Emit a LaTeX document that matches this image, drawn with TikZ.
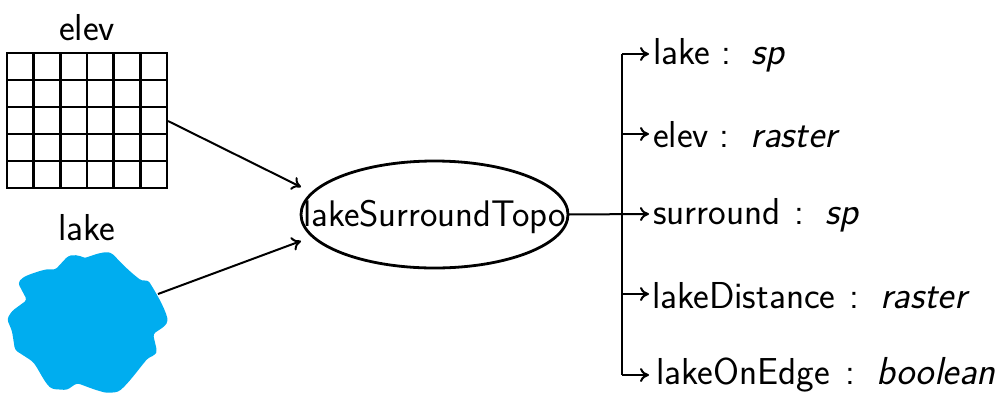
\documentclass[tikz,border=0pt]{standalone}
\usetikzlibrary{arrows.meta,shapes.geometric}
\definecolor{lakeblue}{HTML}{00ADEF}
\tikzset{
  every node/.style={font=\sffamily\fontsize{37.5}{37.5}\selectfont,text=black,inner sep=0pt,outer sep=0pt},
  lbl/.style={anchor=base west},
  title/.style={anchor=base},
  conn/.style={line width=2pt,-{To[length=9pt,width=14pt]}},
  trunk/.style={line width=2pt},
  gridline/.style={line width=2.8pt},
}
\newcommand{\ty}[2]{\hspace{#1}:\hspace{21pt}{\fontsize{39}{39}\selectfont\textit{#2}}}
\begin{document}
\begin{tikzpicture}[x=1pt,y=-1pt]
\useasboundingbox (0,0) rectangle (1000,408);
% raster
\node[draw,gridline,minimum width=160pt,minimum height=135pt,anchor=north west] (grid) at (7,53) {};
\foreach \x in {33.67,60.33,87,113.67,140.33} \draw[gridline] (\x,53) -- (\x,188);
\foreach \y in {80,107,134,161} \draw[gridline] (7,\y) -- (167,\y);
\node[title] (elevT) at (87,40) {elev};
% lake
\node[title] (lakeT) at (87,240) {lake};
\fill[lakeblue,rounded corners=3pt] (68,256) .. controls (78,254) and (84,258) .. (88,257) .. controls (96,254) and (106,251) .. (113,254)
 .. controls (120,262) and (130,272) .. (142,281) -- (148,280) .. controls (155,291) and (165,308) .. (168,321) -- (165,326) -- (153,334)
 -- (157,351) -- (155,355) -- (148,358) .. controls (138,370) and (128,384) .. (118,392) -- (107,393) .. controls (95,390) and (85,386) .. (77,383)
 -- (67,390) -- (52,389) .. controls (44,382) and (38,368) .. (32,361) -- (15,350) -- (12,331) -- (7,319) -- (12,311) -- (27,300) -- (18,283) -- (22,278)
 .. controls (30,274) and (42,270) .. (50,269) -- (55,270) -- cycle;
% process
\node[draw,ellipse,line width=2.8pt,minimum width=267pt,minimum height=107pt] (proc) at (434.5,214.5) {};
\node[anchor=base,font=\sffamily\fontsize{37}{37}\selectfont] (procT) at (434.5,226) {lakeSurroundTopo};
% outputs
\node[lbl] (o1) at (653,64) {lake\ty{11pt}{sp}};
\node[lbl] (o2) at (653,147) {elev\ty{11pt}{raster}};
\node[lbl] (o3) at (653,224) {surround\ty{14pt}{sp}};
\node[lbl] (o4) at (652,308) {lakeDistance\ty{14pt}{raster}};
\node[lbl] (o5) at (656,384) {lakeOnEdge\ty{16pt}{boolean}};
% connectors
\coordinate (g) at (168,121);
\coordinate (e1) at (301,187);
\coordinate (l) at (158,294);
\coordinate (e2) at (301,241);
\coordinate (tt) at (622,54);
\coordinate (tb) at (622,375);
\coordinate (a1) at (649,54);
\coordinate (a2) at (649,134);
\coordinate (a3) at (649,214);
\coordinate (a4) at (649,294);
\coordinate (a5) at (649,375);
\coordinate (b2) at (622,134);
\coordinate (b4) at (622,294);
\draw[conn] (g) -- (e1);
\draw[conn] (l) -- (e2);
\draw[trunk] (tt) -- (tb);
\draw[conn] (tt) -- (a1);
\draw[conn] (b2) -- (a2);
\draw[conn] (proc.east) -- (a3);
\draw[conn] (b4) -- (a4);
\draw[conn] (tb) -- (a5);
\end{tikzpicture}
\end{document}
